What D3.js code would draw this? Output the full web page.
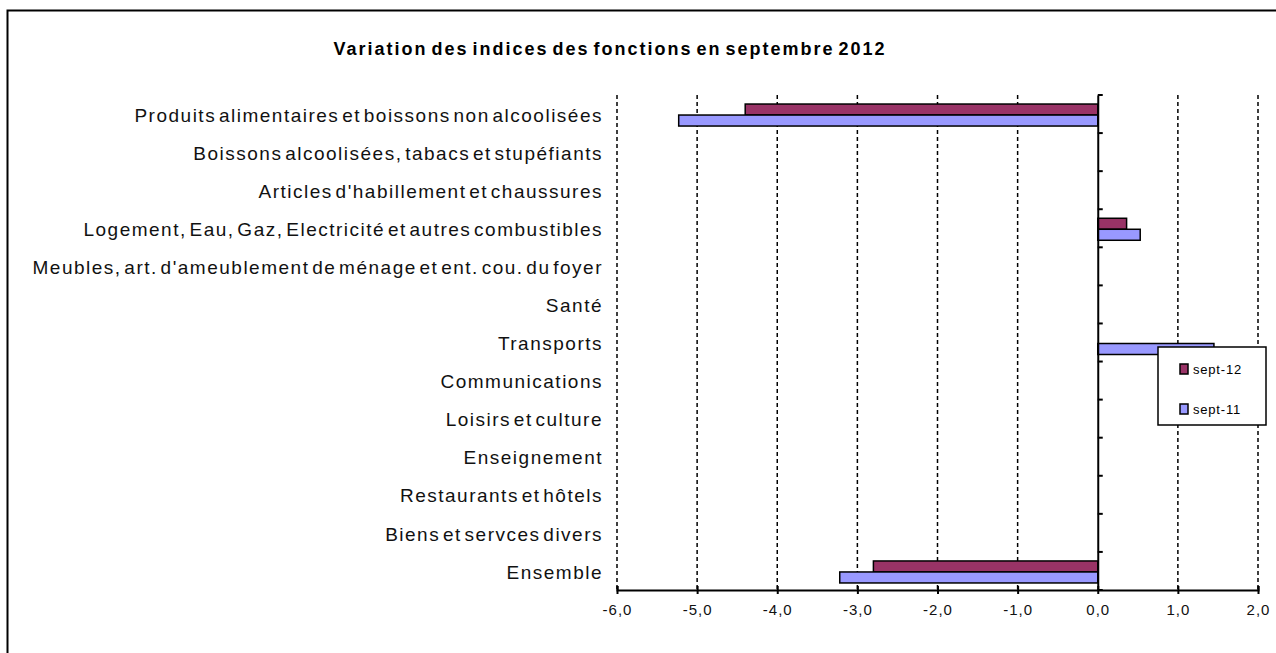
<!DOCTYPE html>
<html>
<head>
<meta charset="utf-8">
<script src="https://cdn.jsdelivr.net/npm/d3@7"></script>
<style>
  body { margin: 0; background: #fff; }
  svg { display: block; font-family: "Liberation Sans", Arial, sans-serif; }
</style>
</head>
<body>
<svg id="chart" width="1276" height="653"></svg>
<script>
// Data
const categories = [
  "Produits alimentaires et boissons non alcoolisées",
  "Boissons alcoolisées, tabacs et stupéfiants",
  "Articles d'habillement et chaussures",
  "Logement, Eau, Gaz, Electricité et autres combustibles",
  "Meubles, art. d'ameublement de ménage et ent. cou. du foyer",
  "Santé",
  "Transports",
  "Communications",
  "Loisirs et culture",
  "Enseignement ",
  "Restaurants et hôtels",
  "Biens et servces divers",
  "Ensemble"
];
const sept12 = [-4.40, null, null, 0.36, null, null, null, null, null, null, null, null, -2.80];
const sept11 = [-5.23, null, null, 0.53, null, null, 1.45, null, null, null, null, null, -3.22];
const seriesNames = ["sept-12", "sept-11"];
const seriesColors = ["#993366", "#9999ff"];
const xTicks = [-6, -5, -4, -3, -2, -1, 0, 1, 2];

const svg = d3.select("#chart");

// outer frame (right and bottom edges fall outside the picture)
svg.append("rect")
  .attr("x", 7.5).attr("y", 10.5)
  .attr("width", 1300).attr("height", 700)
  .attr("fill", "none").attr("stroke", "#000").attr("stroke-width", 2);

svg.append("text")
  .attr("x", 610).attr("y", 55)
  .attr("text-anchor", "middle")
  .attr("font-size", "18px")
  .attr("font-weight", "bold")
  .attr("letter-spacing", "2px")
  .attr("word-spacing", "-3px")
  .text("Variation des indices des fonctions en septembre 2012");

const x = d3.scaleLinear().domain([-6, 2]).range([617, 1258]);
const y = d3.scaleBand().domain(categories).range([95, 590]);

// dashed vertical gridlines
svg.append("g")
  .selectAll("line")
  .data(xTicks.filter(d => d !== 0))
  .enter().append("line")
  .attr("x1", d => x(d)).attr("x2", d => x(d))
  .attr("y1", 95).attr("y2", 590)
  .attr("stroke", "#000")
  .attr("stroke-width", 1.5)
  .attr("stroke-dasharray", "4,3");

// bars
const series = [sept12, sept11];
const barH = 11;
series.forEach((vals, s) => {
  svg.append("g")
    .selectAll("rect")
    .data(categories.map((c, i) => ({ c, v: vals[i] })).filter(d => d.v !== null))
    .enter().append("rect")
    .attr("x", d => x(Math.min(0, d.v)))
    .attr("width", d => Math.abs(x(d.v) - x(0)))
    .attr("y", d => y(d.c) + y.bandwidth() / 2 - barH + 1 + s * barH)
    .attr("height", barH)
    .attr("fill", seriesColors[s])
    .attr("stroke", "#000")
    .attr("stroke-width", 1.5);
});

// x axis
const xAxis = svg.append("g")
  .attr("transform", "translate(0,590)")
  .call(d3.axisBottom(x).tickValues(xTicks).tickSize(-4).tickPadding(14)
    .tickFormat(d => d3.format(".1f")(d).replace(".", ",").replace("−", "-")));
xAxis.select(".domain").attr("stroke-width", 2);
xAxis.selectAll(".tick line").attr("y1", 4).attr("y2", -4).attr("stroke-width", 2);
xAxis.selectAll("text")
  .attr("font-size", "15px")
  .attr("letter-spacing", "1px")
  .attr("fill", "#111")
  .attr("font-family", "Liberation Sans, Arial, sans-serif");

// y axis at zero
const yAxis = svg.append("g")
  .attr("transform", `translate(${x(0)},0)`)
  .call(d3.axisRight(y).tickSize(0).tickFormat(""));
yAxis.select(".domain").attr("stroke-width", 2);
yAxis.append("g")
  .selectAll("line")
  .data(d3.range(categories.length + 1))
  .enter().append("line")
  .attr("x1", 0).attr("x2", 5)
  .attr("y1", i => 95 + i * y.step()).attr("y2", i => 95 + i * y.step())
  .attr("stroke", "#000").attr("stroke-width", 2);

// category labels
svg.append("g")
  .selectAll("text")
  .data(categories)
  .enter().append("text")
  .attr("x", 603)
  .attr("y", d => y(d) + y.bandwidth() / 2 + 1)
  .attr("dy", "0.35em")
  .attr("text-anchor", "end")
  .attr("font-size", "19px")
  .attr("letter-spacing", "1.5px")
  .attr("word-spacing", "-4px")
  .attr("fill", "#111")
  .text(d => d);

// legend
const legend = svg.append("g").attr("transform", "translate(1158,347)");
legend.append("rect")
  .attr("width", 108).attr("height", 78)
  .attr("fill", "#fff").attr("stroke", "#000").attr("stroke-width", 1.5);
seriesNames.forEach((n, i) => {
  const g = legend.append("g").attr("transform", `translate(22,${22 + i * 40})`);
  g.append("rect")
    .attr("y", -5)
    .attr("width", 8).attr("height", 10)
    .attr("fill", seriesColors[i]).attr("stroke", "#000").attr("stroke-width", 1.5);
  g.append("text")
    .attr("x", 13).attr("y", 0).attr("dy", "0.35em")
    .attr("font-size", "13px")
    .attr("letter-spacing", "0.8px")
    .text(n);
});
</script>
</body>
</html>
